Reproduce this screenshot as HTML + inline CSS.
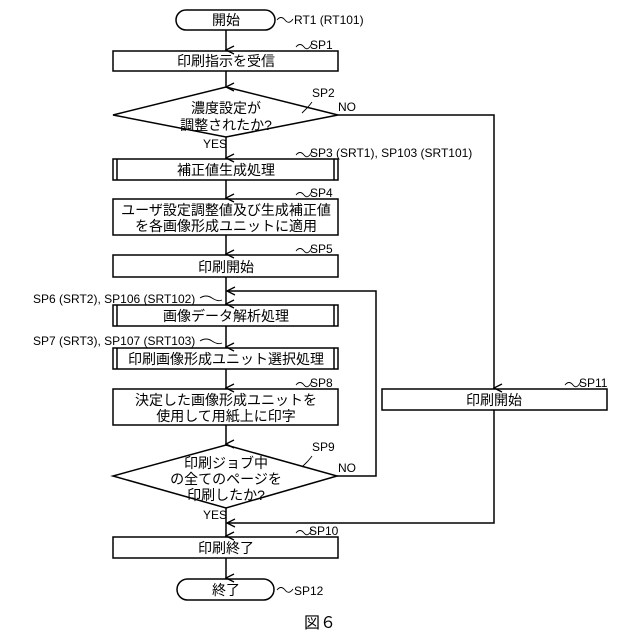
<!DOCTYPE html>
<html><head><meta charset="utf-8"><style>
html,body{margin:0;padding:0;background:#fff;}
svg{display:block}
text{font-family:"Liberation Sans","Noto Sans CJK JP",sans-serif;fill:#000}
.j{font-size:14px;text-anchor:middle}
.l{font-size:12px}
</style></head><body>
<svg width="640" height="640" viewBox="0 0 640 640" xmlns="http://www.w3.org/2000/svg">
<defs><marker id="a" markerWidth="10" markerHeight="10" refX="5" refY="9" orient="auto" markerUnits="userSpaceOnUse"><path d="M1,1 L5,9 L9,1" fill="none" stroke="#000" stroke-width="1.3"/></marker>
<marker id="b" markerWidth="10" markerHeight="10" refX="9" refY="5" orient="auto" markerUnits="userSpaceOnUse"><path d="M1,1 L9,5 L1,9" fill="none" stroke="#000" stroke-width="1.3"/></marker></defs>
<g stroke="#000" stroke-width="1.5" fill="none">
<rect x="176" y="10" width="99" height="20" rx="10"/>
<line x1="226" y1="30" x2="226" y2="50" marker-end="url(#a)"/>
<rect x="113" y="51" width="225" height="20"/>
<line x1="226" y1="71" x2="226" y2="87" marker-end="url(#a)"/>
<polygon points="226,87 338,115 226,137 113,115"/>
<polyline points="338,115 494,115 494,388" marker-end="url(#a)"/>
<line x1="226" y1="137" x2="226" y2="158" marker-end="url(#a)"/>
<rect x="113" y="159" width="225" height="21"/><line x1="117" y1="159" x2="117" y2="180"/><line x1="334" y1="159" x2="334" y2="180"/>
<line x1="226" y1="180" x2="226" y2="198" marker-end="url(#a)"/>
<rect x="113" y="199" width="225" height="36"/>
<line x1="226" y1="235" x2="226" y2="254" marker-end="url(#a)"/>
<rect x="113" y="255" width="225" height="22"/>
<line x1="226" y1="277" x2="226" y2="304" marker-end="url(#a)"/>
<rect x="113" y="305" width="225" height="21"/><line x1="117" y1="305" x2="117" y2="326"/><line x1="334" y1="305" x2="334" y2="326"/>
<line x1="226" y1="326" x2="226" y2="347" marker-end="url(#a)"/>
<rect x="113" y="348" width="225" height="21"/><line x1="117" y1="348" x2="117" y2="369"/><line x1="334" y1="348" x2="334" y2="369"/>
<line x1="226" y1="369" x2="226" y2="388" marker-end="url(#a)"/>
<rect x="113" y="389" width="225" height="36"/>
<line x1="226" y1="425" x2="226" y2="444" marker-end="url(#a)"/>
<polygon points="226,445 337,476 226,508 113,476"/>
<polyline points="337,476 376,476 376,291 227,291" marker-end="url(#b)"/>
<rect x="382" y="389" width="225" height="21"/>
<polyline points="494,410 494,523 227,523" marker-end="url(#b)"/>
<line x1="226" y1="508" x2="226" y2="536" marker-end="url(#a)"/>
<rect x="113" y="537" width="225" height="21"/>
<line x1="226" y1="558" x2="226" y2="578" marker-end="url(#a)"/>
<rect x="177" y="579" width="97" height="21" rx="10.5"/>
<g stroke-width="0.9">
<path d="M277,20 q4,-5 8,0 t8,-1"/>
<path d="M296,47 q4,-5 8,0 t8,-4"/>
<path d="M302,113 q3,-3 5,-5 t5,-6"/>
<path d="M296,155 q4,-5 8,0 t8,-4"/>
<path d="M296,195 q4,-5 8,0 t8,-4"/>
<path d="M296,251 q4,-5 8,0 t8,-4"/>
<path d="M200,298 q6,-4 12,0 t10,2"/>
<path d="M200,341 q6,-4 12,0 t10,2"/>
<path d="M296,385 q4,-5 8,0 t8,-4"/>
<path d="M302,467 q3,-3 5,-5 t5,-6"/>
<path d="M565,385 q4,-5 8,0 t8,-4"/>
<path d="M296,533 q4,-5 8,0 t8,-4"/>
<path d="M277,590 q4,-5 8,0 t8,-1"/>
</g>
</g>
<text class="j" x="226" y="25">開始</text>
<text class="j" x="226" y="66">印刷指示を受信</text>
<text class="j" x="226" y="113">濃度設定が</text>
<text class="j" x="226" y="130">調整されたか?</text>
<text class="j" x="226" y="175">補正値生成処理</text>
<text class="j" x="226" y="215">ユーザ設定調整値及び生成補正値</text>
<text class="j" x="226" y="231">を各画像形成ユニットに適用</text>
<text class="j" x="226" y="272">印刷開始</text>
<text class="j" x="226" y="321">画像データ解析処理</text>
<text class="j" x="226" y="364">印刷画像形成ユニット選択処理</text>
<text class="j" x="226" y="405">決定した画像形成ユニットを</text>
<text class="j" x="226" y="421">使用して用紙上に印字</text>
<text class="j" x="226" y="468">印刷ジョブ中</text>
<text class="j" x="226" y="484">の全てのページを</text>
<text class="j" x="226" y="500">印刷したか?</text>
<text class="j" x="494" y="405">印刷開始</text>
<text class="j" x="226" y="553">印刷終了</text>
<text class="j" x="226" y="595">終了</text>
<text class="j" x="320" y="628" style="font-size:16px">図６</text>
<g class="l">
<text x="294" y="24">RT1 (RT101)</text>
<text x="310" y="49">SP1</text>
<text x="312" y="97">SP2</text>
<text x="338" y="111">NO</text>
<text x="203" y="148">YES</text>
<text x="310" y="157">SP3 (SRT1), SP103 (SRT101)</text>
<text x="310" y="197">SP4</text>
<text x="310" y="253">SP5</text>
<text x="33" y="303">SP6 (SRT2), SP106 (SRT102)</text>
<text x="33" y="345">SP7 (SRT3), SP107 (SRT103)</text>
<text x="310" y="387">SP8</text>
<text x="312" y="451">SP9</text>
<text x="338" y="472">NO</text>
<text x="203" y="519">YES</text>
<text x="579" y="387">SP11</text>
<text x="309" y="535">SP10</text>
<text x="294" y="595">SP12</text>
</g>
</svg>
</body></html>
